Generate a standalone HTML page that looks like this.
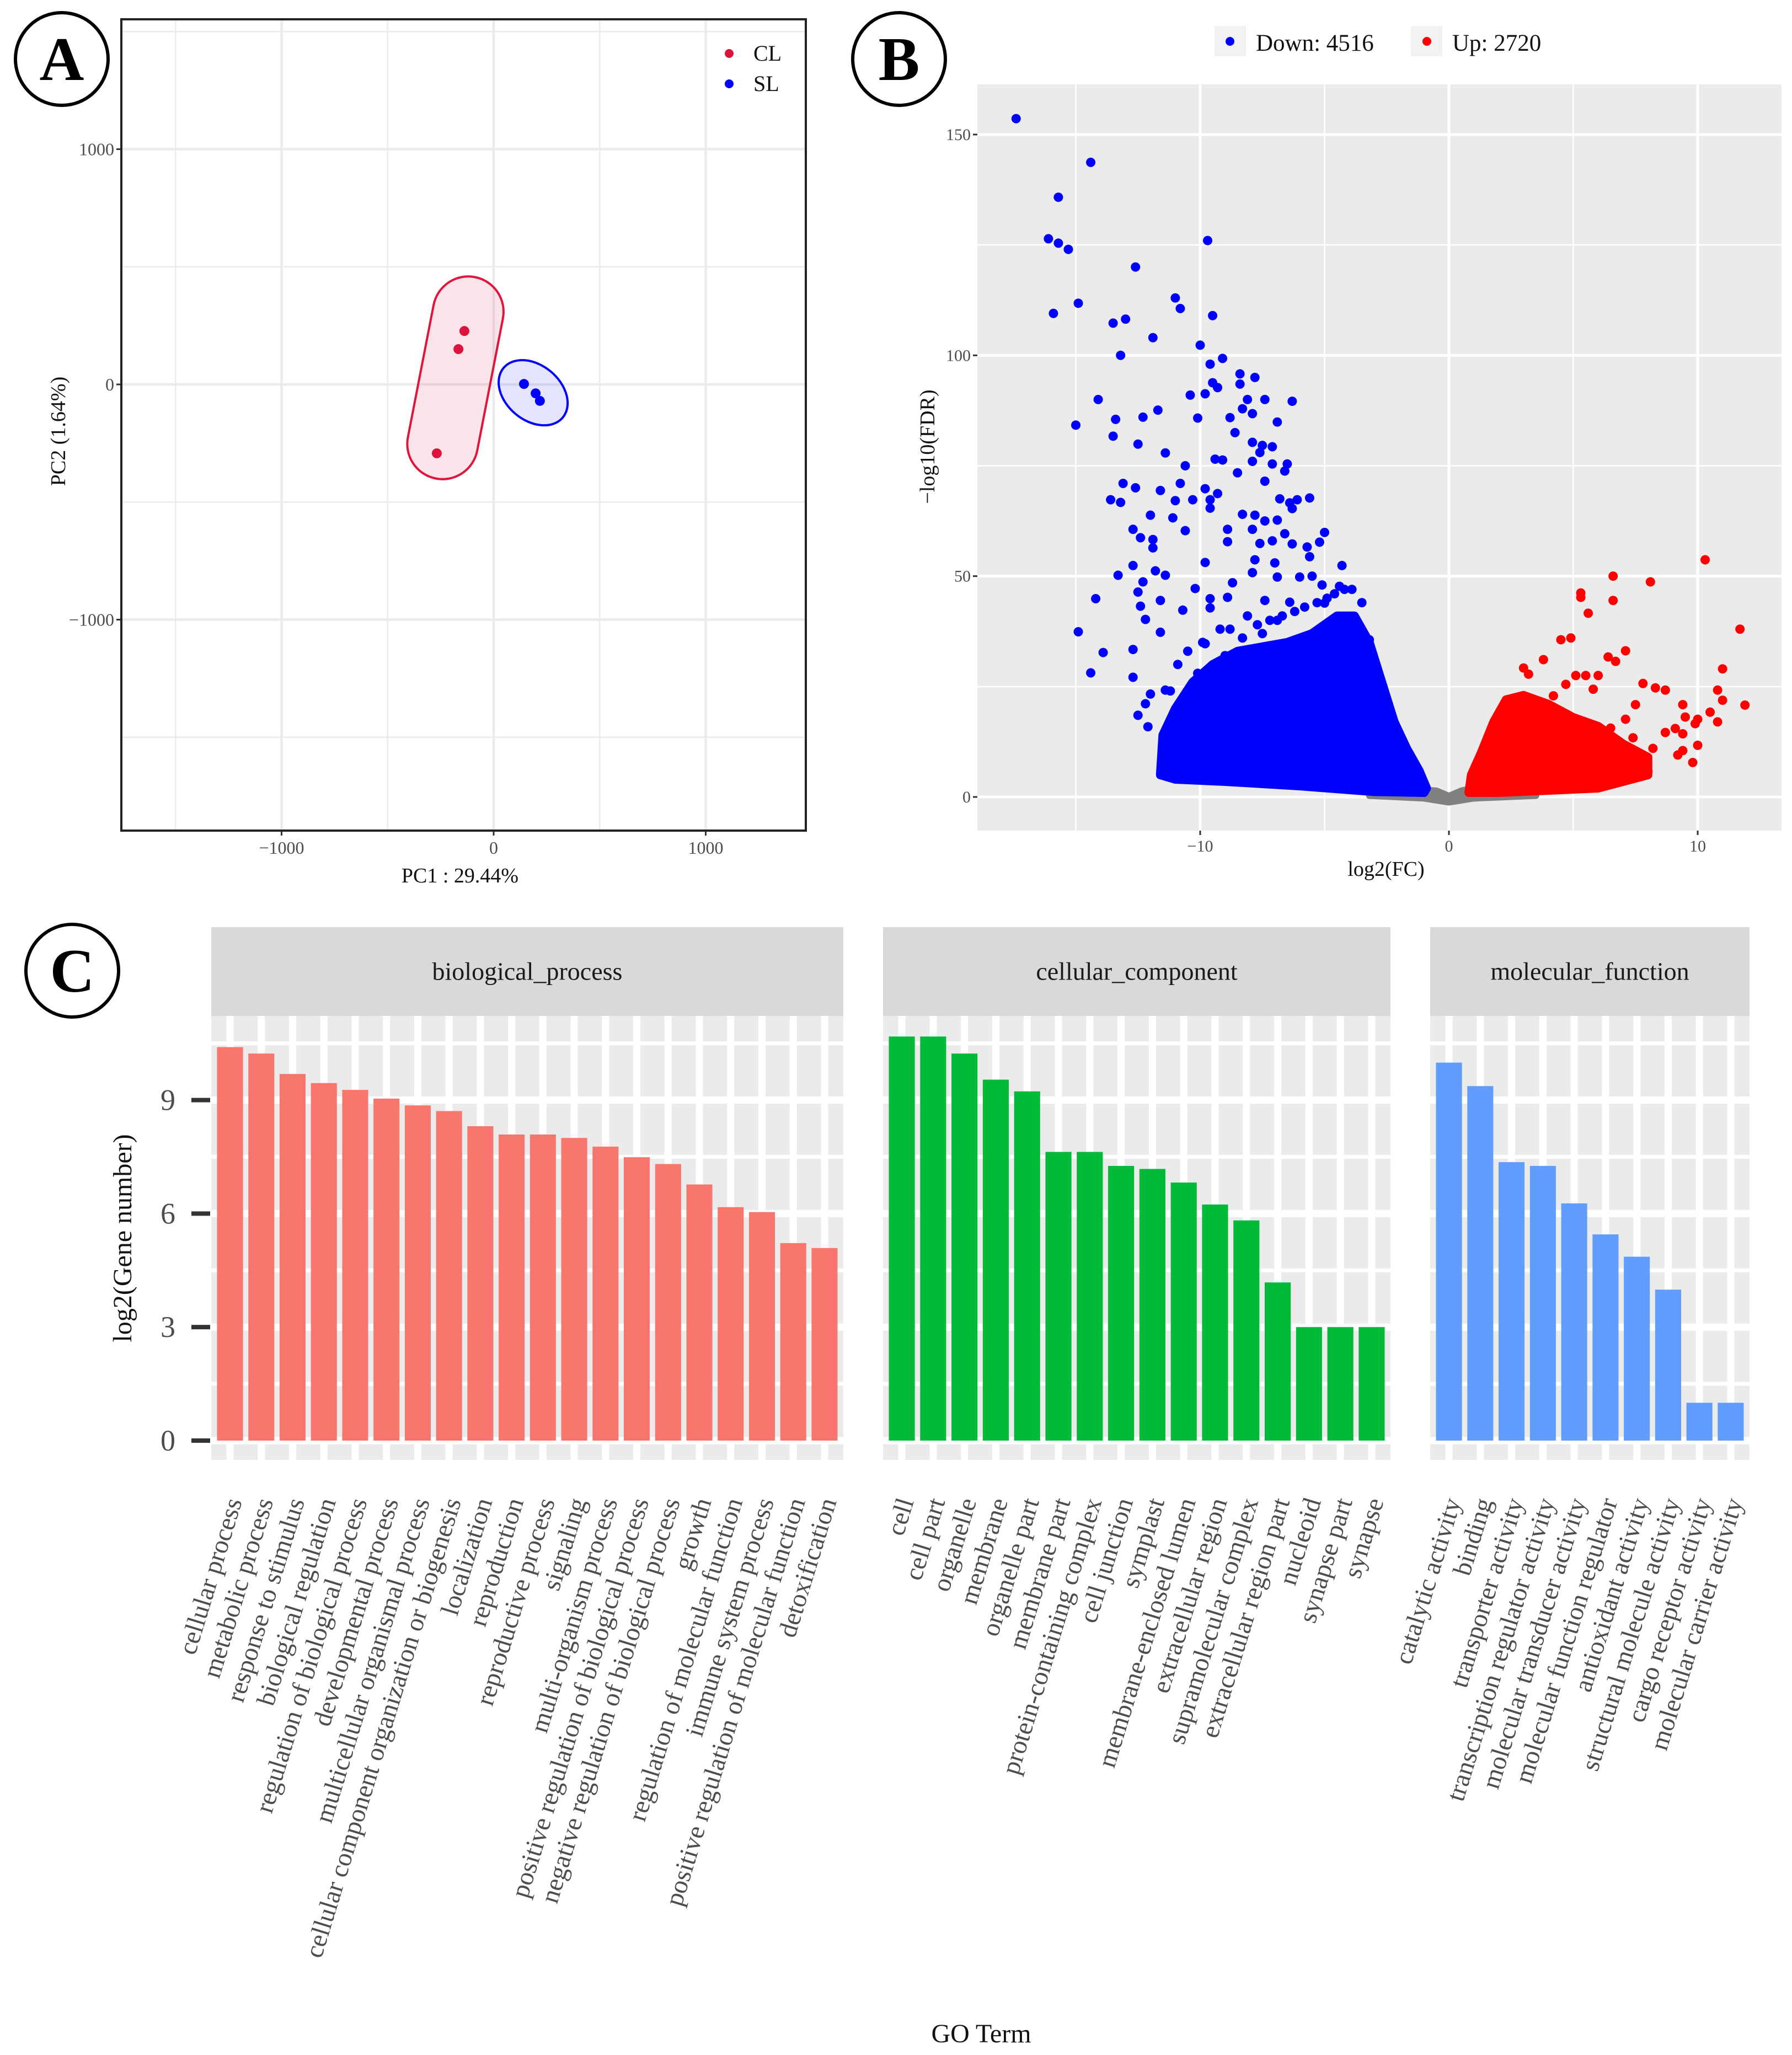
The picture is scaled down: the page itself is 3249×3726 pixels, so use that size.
<!DOCTYPE html>
<html><head><meta charset="utf-8"><style>
html,body{margin:0;padding:0;background:#fff;}
svg{display:block;}
text{font-family:"Liberation Serif",serif;}
</style></head><body>
<svg id="fig" xmlns="http://www.w3.org/2000/svg" width="3249" height="3726" viewBox="0 0 3249 3726">
<rect x="0" y="0" width="3249" height="3726" fill="#fff"/>
<g id="pA"></g>
<g id="pB"></g>
<g id="pC"></g>
</svg>
<script>
// ---------- Panel A data ----------
const pcaGroups = ["CL","SL"];
const clX = [-138,-166,-268];
const clY = [227,150,-293];
const slX = [143,198,218];
const slY = [2,-38,-70];
const pcaTicks = [-1000,0,1000];
const pcaTickLabels = ["\u22121000","0","1000"];
const pcaMinor = [-1500,-500,500,1500];

// ---------- Panel B data ----------
const downCount = 4516, upCount = 2720;
const volTicksX = [-10,0,10];
const volTickLabelsX = ["\u221210","0","10"];
const volTicksY = [0,50,100,150];
const volMinorX = [-15,-5,5];
const volMinorY = [25,75,125];
const downX = [-17.4,-14.4,-15.7,-16.1,-15.7,-15.3,-9.7,-12.6,-15.9,-14.9,-11,-10.8,-13.5,-13,-9.5,-11.9,-10,-13.2,-9.6,-9.1,-9.5,-9.3,-9.8,-10.4,-8.4,-7.8,-8.4,-8.1,-7.4,-6.3,-14.1,-11.7,-12.3,-13.4,-15,-10.1,-8.8,-8.3,-7.9,-6.9,-13.5,-12.5,-8.6,-7.9,-7.5,-7.1,-7.6,-11.4,-9.4,-9.1,-7.9,-7.1,-6.5,-10.6,-6.6,-8.5,-7.4,-10.8,-13.1,-12.6,-11.6,-9.8,-9.3,-13.6,-13.2,-11,-10.3,-9.6,-6.8,-6.4,-6.1,-5.6,-6.3,-9.6,-12,-11.1,-8.3,-7.8,-7.4,-6.9,-12.7,-10.6,-8.9,-7.9,-6.6,-5,-5.2,-12.4,-11.9,-8.9,-7.6,-7.1,-6.3,-5.7,-11.9,-9.8,-7.8,-7,-5.6,-4.3,-12.7,-11.8,-11.4,-13.3,-7.9,-6.9,-6,-5.5,-12.3,-8.7,-4.4,-12.5,-10.2,-14.2,-11.6,-9.6,-8.9,-7.4,-6.4,-5,-10.7,-12.4,-9.6,-4,-12.2,-14.9,-11.6,-9.8,-3.2,-13.9,-12.7,-14.4,-12.7,-12,-11.4,-12.2,-12.5,-12.1,-10.1,-11.4,-11.1,-10.5,-9.2,-8.1,-7.2,-6.2,-5.3,-4.6,-3.9,-3.5,-10.9,-9.9,-8.8,-7.7,-6.7,-5.8,-4.9,-11.2,-10.1,-9.0,-8.3,-7.5,-6.9,-5.1,-4.2];
const downY = [153.6,143.7,135.8,126.4,125.4,124,126,120,109.5,111.8,113,110.6,107.3,108.2,109,104,102.3,100,98,99.3,93.8,92.7,91.3,91,95.8,95,93.5,90,90,89.6,90,87.6,86,85.5,84.2,85.8,85.9,87.9,86.8,84.9,81.7,79.9,82.5,80.3,79.6,79.3,78,77.9,76.5,76.3,76,75.4,75.4,75,73.8,73.4,71.5,71,71,70,69.4,69.8,68.7,67.3,66.7,67.1,67.3,67.3,67.5,66.6,67.3,67.7,65.3,65.4,63.8,63.2,64,63.8,62.5,62.7,60.6,60.3,60.6,60.6,59.6,59.9,57.7,58.7,58.3,57.8,57.4,58,57.3,56.6,56.4,53.1,53.7,53,54.4,52.4,52.4,51.2,50.2,50.2,50.8,49.8,49.8,50,48.7,48.5,47.7,46.4,47.2,44.9,44.5,44.9,45.2,44.5,44.1,43.9,42.3,43.2,42.8,40.2,40.2,37.4,37.3,34.7,35.6,32.7,33.4,28.1,27.1,23.3,24.2,21.1,18.5,15.9,4.9,8,6.4,33,38,41,40,42,44,46,47,44,30,35,38,39,41,43,45,24,28,32,36,37,40,48,47];
const upX = [10.3,6.6,8.1,6.6,5.3,5.3,5.6,11.7,4.9,4.5,7.1,6.4,6.7,3.8,11,3,3.2,5.1,6,5.5,4.7,5.8,7.8,8.3,8.7,10.8,11,11.9,7.5,9.4,9.5,10.5,10,9.9,10.8,9.1,8.7,9.4,10,9.4,9.2,9.8,8.2,7.7,8,6.5,7.1,6.1,7,7.4,6.5,7.1,3.9,4.2,2.5];
const upY = [53.7,50,48.7,44.5,46.2,45.2,41.6,38,36,35.6,33.1,31.7,30.7,31.1,29,29.2,27.8,27.5,27.5,27.5,25.5,24.4,25.7,24.7,24.2,24.2,21.9,20.8,20.9,20.9,18.1,19.2,17.6,16.6,17,15.5,14.6,14.3,11.7,10.5,9.5,7.8,11,9.7,5.8,3.7,5.8,9.7,11.7,13.4,15.6,17.6,21.1,22.9,21.5];
// dense-region outlines (data coords)
const downMassX = [-11.6,-11.5,-11,-10.3,-9.5,-8.5,-7.5,-6.5,-5.5,-4.5,-3.8,-3.2,-2.7,-2.2,-1.7,-1.2,-0.9,-1,-3,-6,-9,-11];
const downMassY = [5,14,20,26,30,33,34,35,37,41,41,35,26,17,11,6,2,1,1.2,2.5,3.5,4];
const upMassX = [0.8,0.9,1.3,1.8,2.3,3,4,5,6,7,8,8,7,6,4,2];
const upMassY = [1,5,10,17,22,23,21,18,16,12,9,5,3.5,2,1.5,1];
const nsMassX = [-3.2,-1,-0.5,0,0.5,1,3.5,3.5,1,0,-1,-3.2];
const nsMassY = [1.2,1.6,1.4,0.2,1.4,2,1.2,0.3,-0.3,-1.2,-0.3,0.3];

// ---------- Panel C data ----------
const bpTerms = ["cellular process","metabolic process","response to stimulus","biological regulation","regulation of biological process","developmental process","multicellular organismal process","cellular component organization or biogenesis","localization","reproduction","reproductive process","signaling","multi-organism process","positive regulation of biological process","negative regulation of biological process","growth","regulation of molecular function","immune system process","positive regulation of molecular function","detoxification"];
const bpValues = [10.40,10.23,9.69,9.45,9.27,9.04,8.86,8.71,8.31,8.09,8.09,8.0,7.77,7.49,7.31,6.77,6.17,6.04,5.22,5.09];
const ccTerms = ["cell","cell part","organelle","membrane","organelle part","membrane part","protein-containing complex","cell junction","symplast","membrane-enclosed lumen","extracellular region","supramolecular complex","extracellular region part","nucleoid","synapse part","synapse"];
const ccValues = [10.68,10.68,10.23,9.54,9.23,7.63,7.63,7.26,7.18,6.82,6.24,5.82,4.18,3.0,3.0,3.0];
const mfTerms = ["catalytic activity","binding","transporter activity","transcription regulator activity","molecular transducer activity","molecular function regulator","antioxidant activity","structural molecule activity","cargo receptor activity","molecular carrier activity"];
const mfValues = [9.99,9.37,7.36,7.26,6.27,5.45,4.86,3.99,1.0,1.0];
const goTicks = [0,3,6,9];
const goMinor = [1.5,4.5,7.5,10.5];

const NS="http://www.w3.org/2000/svg";
function mk(parent, tag, attrs, txt){
  const e=document.createElementNS(NS,tag);
  for(const k in attrs) e.setAttribute(k,attrs[k]);
  if(txt!==undefined) e.textContent=txt;
  parent.appendChild(e); return e;
}

// ---------- Panel A ----------
const A=document.getElementById('pA');
const aL=220,aR=1461,aT=35,aB=1506;
const ax=x=>895+x*0.3845, ay=y=>697-y*0.4265;
{
  const bg=mk(A,'rect',{x:aL,y:aT,width:aR-aL,height:aB-aT,fill:'#fff'});
   
  pcaMinor.forEach(v=>{
    const X=ax(v); if(X>aL&&X<aR){const l=mk(A,'line',{x1:X,x2:X,y1:aT,y2:aB,stroke:'#EBEBEB','stroke-width':2.5});
     }
    const Y=ay(v); if(Y>aT&&Y<aB){const l2=mk(A,'line',{x1:aL,x2:aR,y1:Y,y2:Y,stroke:'#EBEBEB','stroke-width':2.5});
     }
  });
  pcaTicks.forEach((v,i)=>{
    const X=ax(v),Y=ay(v);
    const l=mk(A,'line',{x1:X,x2:X,y1:aT,y2:aB,stroke:'#EBEBEB','stroke-width':4.5});
     
    const l2=mk(A,'line',{x1:aL,x2:aR,y1:Y,y2:Y,stroke:'#EBEBEB','stroke-width':4.5});
     
    const t=mk(A,'line',{x1:X,x2:X,y1:aB,y2:aB+9,stroke:'#333','stroke-width':3});
     
    const t2=mk(A,'line',{x1:aL-9,x2:aL,y1:Y,y2:Y,stroke:'#333','stroke-width':3});
     
    const tl=mk(A,'text',{x:X,y:aB+42,'font-size':32,fill:'#4D4D4D','text-anchor':'middle'},pcaTickLabels[i]);
     
    const tl2=mk(A,'text',{x:aL-13,y:Y+11,'font-size':32,fill:'#4D4D4D','text-anchor':'end'},pcaTickLabels[i]);
     
  });
  const mean=a=>a.reduce((s,v)=>s+v,0)/a.length;
  const cx1=ax(mean(clX)), cy1=ay(mean(clY));
  const e1=mk(A,'rect',{x:-64,y:-186,width:128,height:372,rx:64,ry:64,fill:'rgba(220,20,60,0.11)',stroke:'#E0143C','stroke-width':4,transform:`translate(${cx1+4},${cy1}) rotate(11)`});
   
  const cx2=ax(mean(slX)), cy2=ay(mean(slY));
  const e2=mk(A,'ellipse',{cx:0,cy:0,rx:70,ry:50,fill:'rgba(0,0,255,0.1)',stroke:'#0000FF','stroke-width':4,transform:`translate(${cx2},${cy2}) rotate(40)`});
   
  clX.forEach((x,i)=>{const p=mk(A,'circle',{cx:ax(x),cy:ay(clY[i]),r:9,fill:'#DC143C'});
     });
  slX.forEach((x,i)=>{const p=mk(A,'circle',{cx:ax(x),cy:ay(slY[i]),r:9,fill:'#0000FF'});
     });
  const fr=mk(A,'rect',{x:aL,y:aT,width:aR-aL,height:aB-aT,fill:'none',stroke:'#222','stroke-width':4});
   
  const cols=['#DC143C','#0000FF'];
  pcaGroups.forEach((g,i)=>{
    const d=mk(A,'circle',{cx:1322,cy:97+55*i,r:8,fill:cols[i]});
     
    const t=mk(A,'text',{x:1366,y:110+55*i,'font-size':40,fill:'#111'},g);
     
  });
  const xt=mk(A,'text',{x:834,y:1600,'font-size':38,fill:'#111','text-anchor':'middle'},'PC1 : 29.44%');
   
  const yt=mk(A,'text',{x:0,y:0,'font-size':38,fill:'#111','text-anchor':'middle',transform:'translate(118,782) rotate(-90)'},'PC2 (1.64%)');
   
}

// ---------- Panel B ----------
const B=document.getElementById('pB');
const bL=1772,bR=3230,bT=153,bBot=1506;
const bx=x=>2627+x*45.1, by=y=>1445-y*8.007;
{
  const bg=mk(B,'rect',{x:bL,y:bT,width:bR-bL,height:bBot-bT,fill:'#EBEBEB'});
   
  volMinorX.forEach(v=>{const l=mk(B,'line',{x1:bx(v),x2:bx(v),y1:bT,y2:bBot,stroke:'#fff','stroke-width':2.5});
     });
  volMinorY.forEach(v=>{const l=mk(B,'line',{x1:bL,x2:bR,y1:by(v),y2:by(v),stroke:'#fff','stroke-width':2.5});
     });
  volTicksX.forEach((v,i)=>{
    const l=mk(B,'line',{x1:bx(v),x2:bx(v),y1:bT,y2:bBot,stroke:'#fff','stroke-width':5});
     
    const t=mk(B,'line',{x1:bx(v),x2:bx(v),y1:bBot,y2:bBot+8,stroke:'#333','stroke-width':3});
     
    const tl=mk(B,'text',{x:bx(v),y:bBot+38,'font-size':30,fill:'#4D4D4D','text-anchor':'middle'},volTickLabelsX[i]);
     
  });
  volTicksY.forEach(v=>{
    const l=mk(B,'line',{x1:bL,x2:bR,y1:by(v),y2:by(v),stroke:'#fff','stroke-width':5});
     
    const t=mk(B,'line',{x1:bL-8,x2:bL,y1:by(v),y2:by(v),stroke:'#333','stroke-width':3});
     
    const tl=mk(B,'text',{x:bL-12,y:by(v)+10,'font-size':30,fill:'#4D4D4D','text-anchor':'end'},String(v));
     
  });
  const poly=(xs,ys)=>xs.map((x,i)=>bx(x).toFixed(1)+','+by(ys[i]).toFixed(1)).join(' ');
  const g0=mk(B,'polygon',{points:poly(nsMassX,nsMassY),fill:'#808080',stroke:'#808080','stroke-width':12,'stroke-linejoin':'round'});
   
  const g1=mk(B,'polygon',{points:poly(downMassX,downMassY),fill:'#0000FF',stroke:'#0000FF','stroke-width':16,'stroke-linejoin':'round'});
   
  const g2=mk(B,'polygon',{points:poly(upMassX,upMassY),fill:'#FF0000',stroke:'#FF0000','stroke-width':16,'stroke-linejoin':'round'});
   
  downX.forEach((x,i)=>{const p=mk(B,'circle',{cx:bx(x),cy:by(downY[i]),r:8.5,fill:'#0000FF'});
     });
  upX.forEach((x,i)=>{const p=mk(B,'circle',{cx:bx(x),cy:by(upY[i]),r:8.5,fill:'#FF0000'});
     });
  const k1=mk(B,'rect',{x:2202,y:47,width:57,height:55,fill:'#F2F2F2'});
   
  const d1=mk(B,'circle',{cx:2230,cy:75,r:8,fill:'#0000FF'});
   
  const t1=mk(B,'text',{x:2277,y:92,'font-size':43,fill:'#111'},'Down: '+downCount);
   
  const k2=mk(B,'rect',{x:2558,y:47,width:57,height:55,fill:'#F2F2F2'});
   
  const d2=mk(B,'circle',{cx:2587,cy:75,r:8,fill:'#FF0000'});
   
  const t2=mk(B,'text',{x:2633,y:92,'font-size':43,fill:'#111'},'Up: '+upCount);
   
  const xt=mk(B,'text',{x:2513,y:1588,'font-size':38,fill:'#111','text-anchor':'middle'},'log2(FC)');
   
  const yt=mk(B,'text',{x:0,y:0,'font-size':38,fill:'#111','text-anchor':'middle',transform:'translate(1694,810) rotate(-90)'},'\u2212log10(FDR)');
   
}

// ---------- Panel C ----------
const C=document.getElementById('pC');
const cT=1842,cBot=2647,sT=1681;
const cy=v=>2612-v*68.6;
const facets=[
  {name:'biological_process',key:'bp',L:383,R:1529,terms:bpTerms,vals:bpValues,col:'#F8766D'},
  {name:'cellular_component',key:'cc',L:1601,R:2521,terms:ccTerms,vals:ccValues,col:'#00BA38'},
  {name:'molecular_function',key:'mf',L:2593,R:3172,terms:mfTerms,vals:mfValues,col:'#619CFF'}
];
facets.forEach(f=>{
  const n=f.vals.length, pitch=(f.R-f.L)/(n+0.2);
  const cx=i=>f.L+(i+0.6)*pitch;
  const s=mk(C,'rect',{x:f.L,y:sT,width:f.R-f.L,height:cT-sT,fill:'#D9D9D9'});
   
  const st=mk(C,'text',{x:(f.L+f.R)/2,y:(sT+cT)/2+15,'font-size':46,fill:'#1A1A1A','text-anchor':'middle'},f.name);
   
  const bg=mk(C,'rect',{x:f.L,y:cT,width:f.R-f.L,height:cBot-cT,fill:'#EBEBEB'});
   
  goMinor.forEach(v=>{const l=mk(C,'line',{x1:f.L,x2:f.R,y1:cy(v),y2:cy(v),stroke:'#fff','stroke-width':7});
     });
  goTicks.forEach(v=>{const l=mk(C,'line',{x1:f.L,x2:f.R,y1:cy(v),y2:cy(v),stroke:'#fff','stroke-width':13});
     });
  f.vals.forEach((v,i)=>{const l=mk(C,'line',{x1:cx(i),x2:cx(i),y1:cT,y2:cBot,stroke:'#fff','stroke-width':13});
     });
  const bw=pitch*0.83;
  f.vals.forEach((v,i)=>{
    const b=mk(C,'rect',{x:cx(i)-bw/2,y:cy(v),width:bw,height:cy(0)-cy(v),fill:f.col});
     
    const t=mk(C,'text',{x:0,y:0,'font-size':47,fill:'#4D4D4D','text-anchor':'end',transform:`translate(${cx(i)+22},2722) rotate(-73)`},f.terms[i]);
     
  });
});
goTicks.forEach(v=>{
  const t=mk(C,'rect',{x:347,y:cy(v)-4,width:34,height:8,fill:'#333'});
   
  const tl=mk(C,'text',{x:318,y:cy(v)+18,'font-size':54,fill:'#4D4D4D','text-anchor':'end'},String(v));
   
});
{
  const yt=mk(C,'text',{x:0,y:0,'font-size':48,fill:'#111','text-anchor':'middle',transform:'translate(238,2245) rotate(-90)'},'log2(Gene number)');
   
  const xt=mk(C,'text',{x:1779,y:3703,'font-size':48,fill:'#111','text-anchor':'middle'},'GO Term');
   
}

// ---------- panel letters ----------
const S=document.getElementById('fig');
[['A',112,107],['B',1630,107],['C',131,1760]].forEach(([L,x,y])=>{
  const c=mk(S,'circle',{cx:x,cy:y,r:84,fill:'#fff',stroke:'#000','stroke-width':6});
   
  const t=mk(S,'text',{x:x,y:y+38,'font-size':112,'font-weight':'bold',fill:'#000','text-anchor':'middle'},L);
   
});
</script>
</body></html>
